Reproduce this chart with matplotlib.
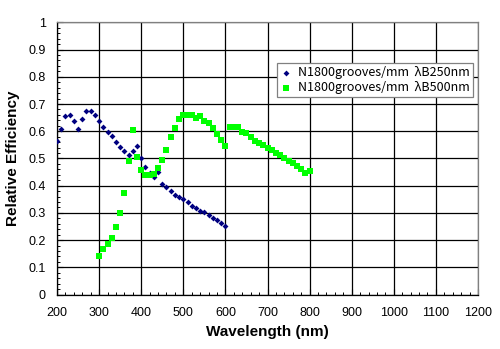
import matplotlib
matplotlib.use("Agg")
import matplotlib.pyplot as plt
from matplotlib.ticker import MultipleLocator

wl_250 = [200, 210, 220, 230, 240, 250, 260, 270, 280, 290, 300, 310, 320, 330, 340,
          350, 360, 370, 380, 390, 400, 410, 420, 430, 440, 450, 460, 470, 480, 490,
          500, 510, 520, 530, 540, 550, 560, 570, 580, 590, 600]
eff_250 = [0.564, 0.607, 0.656, 0.660, 0.639, 0.607, 0.646, 0.675, 0.675, 0.658, 0.639,
           0.617, 0.597, 0.581, 0.560, 0.542, 0.526, 0.512, 0.526, 0.546, 0.503, 0.467,
           0.446, 0.433, 0.451, 0.406, 0.394, 0.380, 0.367, 0.357, 0.350, 0.341, 0.327,
           0.318, 0.308, 0.303, 0.293, 0.283, 0.274, 0.264, 0.251]

wl_500 = [300, 310, 320, 330, 340, 350, 360, 370, 380, 390, 400, 410, 420, 430, 440,
          450, 460, 470, 480, 490, 500, 510, 520, 530, 540, 550, 560, 570, 580, 590,
          600, 610, 620, 630, 640, 650, 660, 670, 680, 690, 700, 710, 720, 730, 740,
          750, 760, 770, 780, 790, 800]
eff_500 = [0.142, 0.166, 0.185, 0.207, 0.247, 0.298, 0.374, 0.490, 0.603, 0.506, 0.457,
           0.441, 0.439, 0.443, 0.466, 0.493, 0.532, 0.580, 0.613, 0.645, 0.660, 0.660,
           0.660, 0.647, 0.656, 0.639, 0.629, 0.613, 0.590, 0.566, 0.546, 0.617, 0.614,
           0.614, 0.596, 0.592, 0.578, 0.565, 0.556, 0.550, 0.540, 0.530, 0.520, 0.511,
           0.502, 0.492, 0.482, 0.472, 0.462, 0.447, 0.454]

label_250 = "N1800grooves/mm  λB250nm"
label_500 = "N1800grooves/mm  λB500nm"
xlabel = "Wavelength (nm)"
ylabel = "Relative Efficiency"

plt.rcParams['font.family'] = ['Liberation Sans', 'DejaVu Sans']

fig = plt.figure(figsize=(5.0, 3.49), dpi=100)
ax = fig.add_axes([0.114, 0.156, 0.842, 0.780])

ax.scatter(wl_250, eff_250, marker='D', s=9, color='#000080', linewidths=0,
           label=label_250, zorder=3)
ax.scatter(wl_500, eff_500, marker='s', s=16, color='#00FF00', linewidths=0,
           label=label_500, zorder=3)

ax.set_xlim(200, 1200)
ax.set_ylim(0, 1)
ax.xaxis.set_major_locator(MultipleLocator(100))
ax.xaxis.set_minor_locator(MultipleLocator(20))
ax.yaxis.set_major_locator(MultipleLocator(0.1))
ax.yaxis.set_minor_locator(MultipleLocator(0.02))
ax.set_yticks([i / 10 for i in range(11)])
ax.set_yticklabels(['0', '0.1', '0.2', '0.3', '0.4', '0.5', '0.6', '0.7', '0.8', '0.9', '1'])
ax.grid(True, which='major', color='black', linewidth=0.9)
ax.set_axisbelow(True)
ax.tick_params(which='both', direction='in', top=False, right=False, labelsize=9,
               colors='black')
ax.tick_params(which='major', length=4, width=0.8)
ax.tick_params(axis='x', which='major', pad=9)
ax.tick_params(axis='y', which='major', pad=8)
ax.tick_params(which='minor', length=2.5, width=0.7)
for side in ['left', 'bottom']:
    ax.spines[side].set_color('black')
    ax.spines[side].set_linewidth(0.9)
for side in ['top', 'right']:
    ax.spines[side].set_color('#808080')
    ax.spines[side].set_linewidth(0.9)

ax.set_xlabel(xlabel, fontsize=11, fontweight='bold', labelpad=4)
ax.set_ylabel(ylabel, fontsize=11, fontweight='bold', labelpad=6)

leg = ax.legend(loc='upper right', bbox_to_anchor=(0.988, 0.851), frameon=True,
                fancybox=False, edgecolor='#808080', framealpha=1,
                prop={'family': ['Noto Sans CJK JP', 'DejaVu Sans'], 'size': 9},
                handletextpad=0.6, borderpad=0.25, labelspacing=0.15,
                handlelength=0.8, borderaxespad=0, markerscale=1.0)
leg.get_frame().set_linewidth(0.9)

fig.savefig("out.png", dpi=100)
